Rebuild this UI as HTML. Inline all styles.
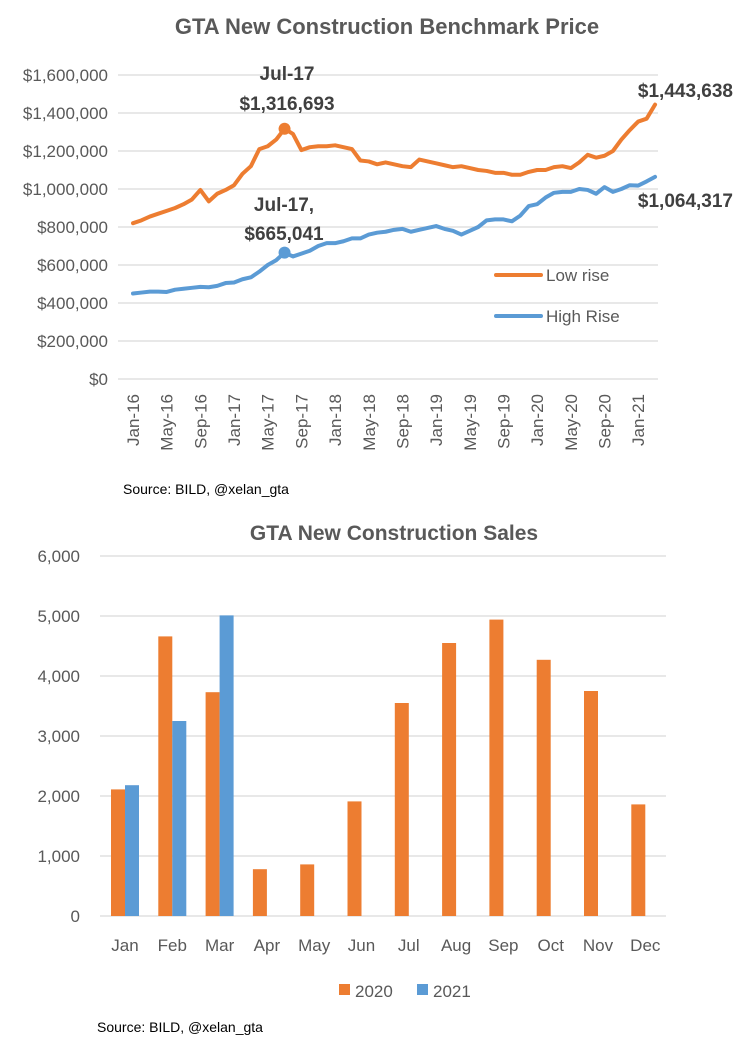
<!DOCTYPE html>
<html><head><meta charset="utf-8"><style>
body{margin:0;background:#fff;width:739px;height:1055px;overflow:hidden;font-family:"Liberation Sans",Arial,sans-serif;}
svg text{font-family:"Liberation Sans",Arial,sans-serif;}
</style></head><body>
<svg id="c" width="739" height="1055">
<text x="387" y="34" text-anchor="middle" font-size="22" font-weight="bold" fill="#595959">GTA New Construction Benchmark Price</text>
<g id="topg"></g>
<text x="123" y="494" font-size="14" fill="#000">Source: BILD, @xelan_gta</text>
<text x="394" y="540" text-anchor="middle" font-size="21" font-weight="bold" fill="#595959">GTA New Construction Sales</text>
<g id="botg"></g>
<text x="97" y="1032" font-size="14" fill="#000">Source: BILD, @xelan_gta</text>
</svg>
<script>
const lowRise=[820,835,855,870,885,900,920,945,995,935,975,995,
1020,1080,1120,1210,1225,1260,1317,1290,1205,1220,1225,1225,
1230,1220,1210,1150,1145,1130,1140,1130,1120,1115,1155,1145,
1135,1125,1115,1120,1110,1100,1095,1085,1085,1075,1075,1090,
1100,1100,1115,1120,1110,1140,1180,1165,1175,1200,1260,1310,
1355,1370,1444];
const highRise=[450,455,460,460,458,470,475,480,485,483,490,505,
508,525,535,565,600,625,665,645,660,675,700,715,
715,725,740,740,760,770,775,785,790,775,785,795,
805,790,780,760,780,800,835,840,840,830,860,910,
920,955,980,985,985,1000,995,975,1010,985,1000,1020,
1018,1040,1064];
const priceTicks=[0,200,400,600,800,1000,1200,1400,1600];
const priceTickLabels=["$0","$200,000","$400,000","$600,000","$800,000","$1,000,000","$1,200,000","$1,400,000","$1,600,000"];
const dateLabels=["Jan-16","May-16","Sep-16","Jan-17","May-17","Sep-17","Jan-18","May-18","Sep-18","Jan-19","May-19","Sep-19","Jan-20","May-20","Sep-20","Jan-21"];
const months=["Jan","Feb","Mar","Apr","May","Jun","Jul","Aug","Sep","Oct","Nov","Dec"];
const sales2020=[2110,4660,3730,780,860,1910,3550,4550,4940,4270,3750,1860];
const sales2021=[2180,3250,5010];
const salesTicks=[0,1000,2000,3000,4000,5000,6000];
const salesTickLabels=["0","1,000","2,000","3,000","4,000","5,000","6,000"];

const NS="http://www.w3.org/2000/svg";
function mk(p,t,a){const e=document.createElementNS(NS,t);for(const k in a)e.setAttribute(k,a[k]);p.appendChild(e);return e;}
const topG=document.getElementById('topg'),botG=document.getElementById('botg');
const px=i=>133+i*8.42, py=v=>379-v*(304/1600);
priceTicks.forEach((t,i)=>{
 const l=mk(topG,'line',{x1:118,x2:658,y1:py(t),y2:py(t),stroke:'#d9d9d9','stroke-width':1.3});
 
 
 const tx=mk(topG,'text',{x:108,y:py(t)+6,'text-anchor':'end','font-size':17,fill:'#595959'});tx.textContent=priceTickLabels[i];
 
 
});
dateLabels.forEach((d,i)=>{
 const x=px(i*4)+6;
 const tx=mk(topG,'text',{x:0,y:0,'text-anchor':'end','font-size':17,fill:'#595959',transform:`translate(${x},394) rotate(-90)`});tx.textContent=d;
 
 
});
function line(arr,col,name){
 const p=mk(topG,'polyline',{points:arr.map((v,i)=>px(i)+','+py(v)).join(' '),fill:'none',stroke:col,'stroke-width':4,'stroke-linejoin':'round','stroke-linecap':'round'});
 
 
}
line(lowRise,'#ed7d31','low-rise-line');line(highRise,'#5b9bd5','high-rise-line');
const d1=mk(topG,'circle',{cx:px(18),cy:py(lowRise[18]),r:6,fill:'#ed7d31'});


const d2=mk(topG,'circle',{cx:px(18),cy:py(highRise[18]),r:6,fill:'#5b9bd5'});


function lbl(x,y,t,anchor,name){const e=mk(topG,'text',{x:x,y:y,'text-anchor':anchor,'font-size':19,'font-weight':'bold',fill:'#404040'});e.textContent=t;
 
 }
lbl(287,80,'Jul-17','middle','peak-label-date');lbl(287,110,'$1,316,693','middle','peak-label-value');
lbl(284,211,'Jul-17,','middle','high-label-date');lbl(284,240,'$665,041','middle','high-label-value');
lbl(733,97,'$1,443,638','end','low-rise-end-label');lbl(733,207,'$1,064,317','end','high-rise-end-label');
[['#ed7d31','Low rise',275],['#5b9bd5','High Rise',316]].forEach(([c,t,y],i)=>{
 const l=mk(topG,'line',{x1:496,x2:541,y1:y,y2:y,stroke:c,'stroke-width':4,'stroke-linecap':'round'});
 
 
 const tx=mk(topG,'text',{x:546,y:y+6,'font-size':17,fill:'#595959'});tx.textContent=t;
 
 
});
// bottom
const by=v=>916-v*0.06, bx=i=>125+i*47.3;
salesTicks.forEach((t,i)=>{
 const l=mk(botG,'line',{x1:100,x2:666,y1:by(t),y2:by(t),stroke:'#d9d9d9','stroke-width':1.3});
 
 
 const tx=mk(botG,'text',{x:80,y:by(t)+6,'text-anchor':'end','font-size':17,fill:'#595959'});tx.textContent=salesTickLabels[i];
 
 
});
months.forEach((m,i)=>{
 const tx=mk(botG,'text',{x:bx(i),y:951,'text-anchor':'middle','font-size':17,fill:'#595959'});tx.textContent=m;
 
 
});
sales2020.forEach((v,i)=>{
 const r=mk(botG,'rect',{x:bx(i)-14,y:by(v),width:14,height:916-by(v),fill:'#ed7d31'});
 
 
});
sales2021.forEach((v,i)=>{
 const r=mk(botG,'rect',{x:bx(i),y:by(v),width:14,height:916-by(v),fill:'#5b9bd5'});
 
 
});
[['#ed7d31','2020',339],['#5b9bd5','2021',417]].forEach(([c,t,x])=>{
 const r=mk(botG,'rect',{x:x,y:984,width:11,height:11,fill:c});
 
 
 const tx=mk(botG,'text',{x:x+16,y:997,'font-size':17,fill:'#595959'});tx.textContent=t;
 
 
});
</script>
</body></html>
